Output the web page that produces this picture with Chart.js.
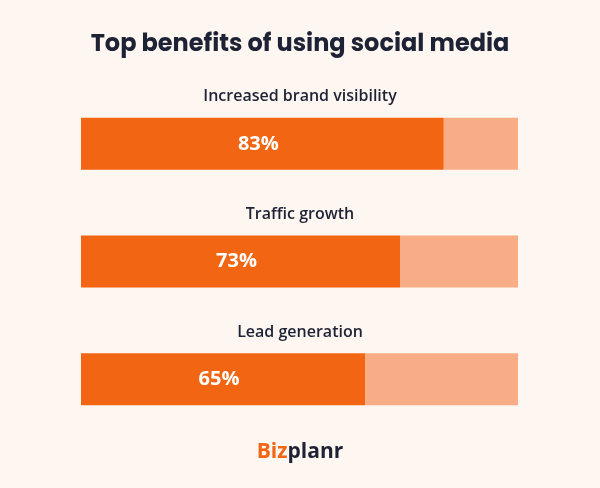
<!DOCTYPE html>
<html><head><meta charset="utf-8">
<script src="https://cdn.jsdelivr.net/npm/chart.js@4"></script>
<style>html,body{margin:0;padding:0;background:#fdf6f1;}#w{width:600px;height:488px;position:relative}</style>
</head><body><div id="w"><canvas id="c"></canvas></div>
<script>
const categories = ["Increased brand visibility", "Traffic growth", "Lead generation"];
const values = [83, 73, 65];
const title = "Top benefits of using social media";
const remainder = values.map(v => 100 - v);

const overlay = {
  id: 'overlay',
  afterDatasetsDraw(chart) {
    const ctx = chart.ctx;
    const meta = chart.getDatasetMeta(0);
    ctx.save();
    ctx.textAlign = 'center';
    ctx.textBaseline = 'middle';
    ctx.fillStyle = '#1e2235';
    ctx.font = 'bold 24px Poppins, "Open Sans", "DejaVu Sans", sans-serif';
    ctx.fillText(title, 300, 45);
    meta.data.forEach((bar, i) => {
      const top = bar.y - bar.height / 2;
      ctx.fillStyle = '#1e2235';
      ctx.font = '600 16px "Open Sans", sans-serif';
      ctx.fillText(categories[i], 300, top - 21);
      ctx.fillStyle = '#ffffff';
      ctx.font = 'bold 20px "Open Sans", sans-serif';
      const x0 = chart.scales.x.getPixelForValue(0);
      ctx.fillText(values[i] + '%', (x0 + bar.x) / 2 - 4, bar.y);
    });
    ctx.font = 'bold 21px "Open Sans", sans-serif';
    ctx.textAlign = 'left';
    const w1 = ctx.measureText('Biz').width, w2 = ctx.measureText('planr').width;
    const sx = 300 - (w1 + w2) / 2;
    ctx.fillStyle = '#f26513'; ctx.fillText('Biz', sx, 452);
    ctx.fillStyle = '#1e2235'; ctx.fillText('planr', sx + w1, 452);
    ctx.restore();
  }
};

new Chart(document.getElementById('c'), {
  type: 'bar',
  data: {
    labels: categories,
    datasets: [
      { data: values, backgroundColor: '#f26513', barPercentage: 0.4426, categoryPercentage: 1 },
      { data: remainder, backgroundColor: '#f8ad86', barPercentage: 0.4426, categoryPercentage: 1 }
    ]
  },
  options: {
    indexAxis: 'y',
    responsive: true, maintainAspectRatio: false, animation: false,
    layout: { padding: { left: 81, right: 82, top: 85, bottom: 50 } },
    plugins: { legend: { display: false }, tooltip: { enabled: false } },
    scales: {
      x: { stacked: true, min: 0, max: 100, display: false },
      y: { stacked: true, display: false }
    }
  },
  plugins: [overlay]
});
</script></body></html>
